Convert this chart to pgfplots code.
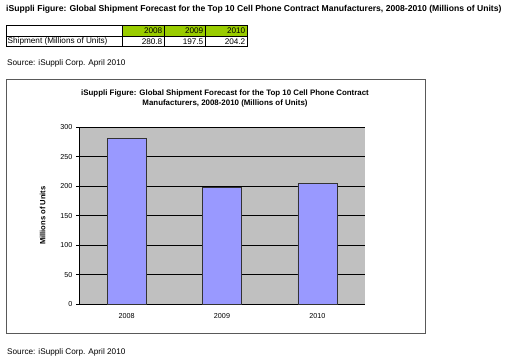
\documentclass[border=0pt]{standalone}
\usepackage{pgfplots}
\pgfplotsset{compat=1.18}
\usepackage{fontspec}
\setmainfont{Liberation Sans}
\definecolor{barfill}{HTML}{9999FF}
\definecolor{plotbg}{HTML}{C0C0C0}
\definecolor{hdrgreen}{HTML}{99CC00}
\begin{document}
\begin{tikzpicture}
\fill[white] (0,0) rectangle (506pt,-361pt);
\path[use as bounding box] (0,0) rectangle (506pt,-361pt);
% top title
\node[anchor=west,inner sep=0pt,font=\fontsize{8.6}{10}\selectfont\bfseries] at (6pt,-9.5pt)
  {iSuppli Figure: Global Shipment Forecast for the Top 10 Cell Phone Contract Manufacturers, 2008-2010 (Millions of Units)};
% table
\fill[hdrgreen] (122.5pt,-25pt) rectangle (247pt,-36.5pt);
\draw[line width=0.6pt] (6pt,-25pt) rectangle (247pt,-46.5pt);
\draw[line width=0.6pt] (6pt,-36.5pt) -- (247pt,-36.5pt);
\foreach \xx in {122.5,164,205} \draw[line width=0.6pt] (\xx pt,-25pt) -- (\xx pt,-46.5pt);
\begin{scope}[every node/.style={inner sep=0pt,font=\fontsize{8.2}{9}\selectfont}]
\node[anchor=east] at (162.5pt,-31pt) {2008};
\node[anchor=east] at (203.5pt,-31pt) {2009};
\node[anchor=east] at (245.5pt,-31pt) {2010};
\node[anchor=west] at (7.5pt,-41.8pt) {Shipment (Millions of Units)};
\node[anchor=east] at (162.5pt,-41.8pt) {280.8};
\node[anchor=east] at (203.5pt,-41.8pt) {197.5};
\node[anchor=east] at (245.5pt,-41.8pt) {204.2};
\node[anchor=west] at (7pt,-63pt) {Source: iSuppli Corp. April 2010};
\node[anchor=west] at (7pt,-352pt) {Source: iSuppli Corp. April 2010};
\end{scope}
% chart box
\draw[gray!70!black,line width=0.7pt] (6.5pt,-79pt) rectangle (425pt,-333.5pt);
\node[align=center,inner sep=0pt,font=\fontsize{7.9}{9.5}\selectfont\bfseries] at (225pt,-98.5pt)
  {iSuppli Figure: Global Shipment Forecast for the Top 10 Cell Phone Contract\\Manufacturers, 2008-2010 (Millions of Units)};
\begin{axis}[
  at={(79pt,-304pt)}, anchor=south west,
  scale only axis, width=286pt, height=176.7pt,
  xmin=-0.5, xmax=2.5, ymin=0, ymax=300,
  ytick={0,50,...,300},
  xtick={0,1,2}, xticklabels={2008,2009,2010},
  extra x ticks={0.5,1.5,2.5}, extra x tick labels={},
  extra x tick style={major tick length=3pt, tick style={black}, tick align=outside, grid=none},
  axis background/.style={fill=plotbg},
  ymajorgrids, grid style={black,line width=0.6pt},
  axis line style={black,line width=0.6pt},
  axis x line*=bottom, axis y line*=left,
  x tick style={draw=none},
  y tick style={black,line width=0.6pt}, major tick length=3pt, tick align=outside,
  ticklabel style={font=\fontsize{7.2}{8}\selectfont},
  /pgf/number format/assume math mode=true,
  ylabel={\bfseries Millions of Units},
  ylabel style={font=\fontsize{7.6}{8}\selectfont, at={(axis description cs:-0.105,0.5)}, anchor=south},
  x tick label style={yshift=-3pt},
  ybar, bar width=39pt,
  clip=false,
]
\addplot[fill=barfill, draw=black!80, line width=0.6pt] coordinates {(0,280.8) (1,197.5) (2,204.2)};
\end{axis}
\end{tikzpicture}
\end{document}
